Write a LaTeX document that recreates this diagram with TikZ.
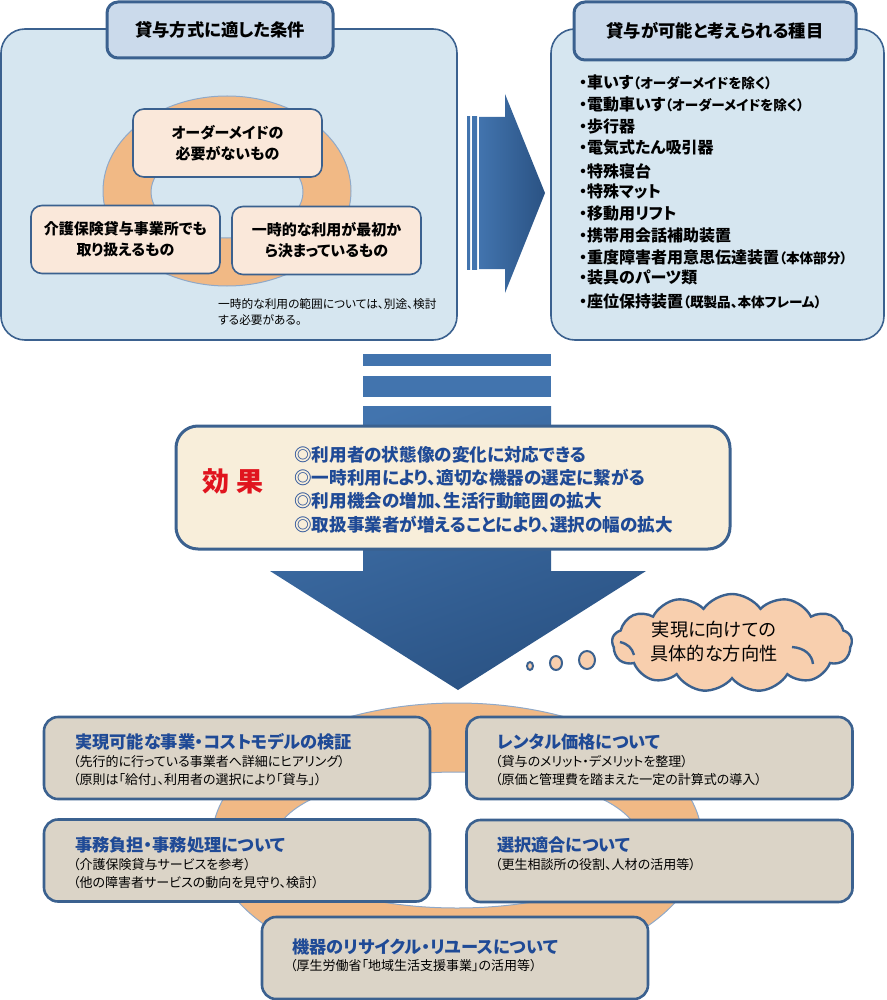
\documentclass[tikz,border=0pt]{standalone}
\usepackage{xcolor}
\usepackage{fontspec}
\usepackage{tikz}
\usetikzlibrary{shapes.symbols}
\newfontfamily\jpfont[RawFeature=+palt]{Noto Sans CJK JP}
\definecolor{panelblue}{HTML}{D6E6F0}
\definecolor{edgeblue}{HTML}{3B618F}
\definecolor{headblue}{HTML}{CBDAEB}
\definecolor{ringorange}{HTML}{F1B985}
\definecolor{ringedge}{HTML}{8FA9C9}
\definecolor{peach}{HTML}{FAE8DA}
\definecolor{cream}{HTML}{F8EEDA}
\definecolor{cloudpeach}{HTML}{F8CFAE}
\definecolor{paper}{HTML}{DBD4C7}
\definecolor{arrowlight}{HTML}{4274AE}
\definecolor{arrowdark}{HTML}{2A5283}
\definecolor{titleblue}{HTML}{1F4A96}
\definecolor{effectred}{HTML}{E0141E}
\tikzset{
  panel/.style={draw=edgeblue, line width=1.6pt, fill=panelblue, rounded corners=24pt},
  headbox/.style={draw=edgeblue, line width=3pt, fill=headblue, rounded corners=11pt,
    font=\jpfont\bfseries\fontsize{17.3}{20}\selectfont},
  ringbox/.style={draw=edgeblue, line width=1.6pt, fill=peach, rounded corners=11pt, align=center,
    minimum width=189pt, minimum height=68pt, inner sep=0pt,
    font=\jpfont\bfseries\fontsize{15}{21}\selectfont},
  paperbox/.style={draw=edgeblue, line width=2.6pt, fill=paper, rounded corners=14pt,
    minimum width=386pt, minimum height=82pt, inner sep=0pt},
  listitem/.style={anchor=west, inner sep=0pt, font=\jpfont\bfseries\fontsize{16}{18}\selectfont},
  effectitem/.style={anchor=west, inner sep=0pt, text=titleblue, font=\jpfont\bfseries\fontsize{17.6}{20}\selectfont},
  titletext/.style={anchor=west, inner sep=0pt, text=titleblue, font=\jpfont\bfseries\fontsize{17.2}{20}\selectfont},
  subtext/.style={anchor=west, inner sep=0pt, align=left, font=\jpfont\fontsize{13}{18}\selectfont},
  dot/.style={draw=edgeblue, line width=2pt, fill=cloudpeach},
}
\newcommand{\parenfont}{\fontsize{13.6}{16}\selectfont}
\begin{document}
\begin{tikzpicture}[x=1pt, y=-1pt]
    \useasboundingbox (0,0) rectangle (886,1000);

    % Left panel with its ring
    \draw[panel] (1,29) rectangle (457,340);
    \node[headbox, minimum width=226pt, minimum height=56pt, inner sep=0pt] (lefthead) at (220,30) {貸与方式に適した条件};
    \fill[ringorange, draw=ringedge, line width=1pt, even odd rule] (227,191) ellipse (124 and 95) (227,192) ellipse (76 and 46);
    \node[ringbox] (ordermade) at (227.5,143) {オーダーメイドの\\必要がないもの};
    \node[ringbox] (rentalshop) at (125.5,239.5) {介護保険貸与事業所でも\\取り扱えるもの};
    \node[ringbox] (shortterm) at (326.5,240.5) {一時的な利用が最初か\\ら決まっているもの};
    \node[subtext, font=\jpfont\fontsize{11.7}{16}\selectfont] (rangenote) at (218,312) {一時的な利用の範囲については、別途、検討\\する必要がある。};

    % Right pointing arrow
    \shade[left color=arrowlight, right color=arrowlight] (467,117) rectangle (470,269);
    \shade[left color=arrowlight, right color=arrowlight] (472,117) rectangle (477,269);
    \shade[left color=arrowlight, right color=arrowdark] (479,117) -- (505,117) -- (505,94) -- (545,193) -- (505,293) -- (505,269) -- (479,269) -- cycle;

    % Right panel with the list
    \draw[panel] (551,29) rectangle (884,340);
    \node[headbox, minimum width=282pt, minimum height=58pt, inner sep=0pt] (righthead) at (715,31) {貸与が可能と考えられる種目};
    \foreach \ypos/\itemtext [count=\i] in {
        82/・車いす{\parenfont（オーダーメイドを除く）},
        104/・電動車いす{\parenfont（オーダーメイドを除く）},
        126/・歩行器,
        148/・電気式たん吸引器,
        171/・特殊寝台,
        191/・特殊マット,
        213/・移動用リフト,
        235/・携帯用会話補助装置,
        257/・重度障害者用意思伝達装置{\parenfont（本体部分）},
        277/・装具のパーツ類,
        301/・座位保持装置{\parenfont（既製品、本体フレーム）}}
      \node[listitem] (item\i) at (579,\ypos) {\itemtext};

    % Downward arrow behind the effect box
    \fill[arrowlight] (363,354) rectangle (551,366);
    \fill[arrowlight] (363,376) rectangle (551,397);
    \shade[top color=arrowlight, bottom color=arrowdark, shading angle=20] (363,406) -- (551,406) -- (551,571) -- (646,571) -- (458,690) -- (270,571) -- (363,571) -- cycle;

    % Effect box
    \node[draw=edgeblue, line width=3pt, fill=cream, rounded corners=22pt, minimum width=554pt, minimum height=123pt, inner sep=0pt] (effectbox) at (453,487.5) {};
    \node[inner sep=0pt, text=effectred, font=\jpfont\bfseries\fontsize{27}{30}\selectfont] (effectlabel) at (233,481) {効 果};
    \foreach \ypos/\itemtext [count=\i] in {
        455/◎利用者の状態像の変化に対応できる,
        478/◎一時利用により、適切な機器の選定に繋がる,
        501/◎利用機会の増加、生活行動範囲の拡大,
        525/◎取扱事業者が増えることにより、選択の幅の拡大}
      \node[effectitem] (effect\i) at (294,\ypos) {\itemtext};

    % Thought cloud
    \filldraw[dot] (530,666) ellipse (3 and 4);
    \filldraw[dot] (556,663) ellipse (6 and 7);
    \filldraw[dot] (587,660) ellipse (8 and 9);
    \node[cloud, cloud puffs=13, cloud puff arc=110, aspect=2.4, draw=edgeblue, line width=2.4pt, fill=cloudpeach,
      minimum width=240pt, minimum height=98pt, inner sep=0pt] (thought) at (732,643) {};
    \node[inner sep=0pt, align=center, font=\jpfont\fontsize{18.2}{24}\selectfont] (thoughttext) at (714,642) {実現に向けての\\具体的な方向性};
    \draw[edgeblue, line width=2.4pt] (792,647) .. controls (805,648) and (812,655) .. (813,664);
    \draw[edgeblue, line width=2.4pt] (620,642) .. controls (628,644) and (632,648) .. (634,655);

    % Bottom ring and its five boxes
    \fill[ringorange, draw=ringedge, line width=1pt, even odd rule] (457,840) ellipse (245 and 137) (457,840) ellipse (182 and 68);
    \node[paperbox] (costbox) at (237,758) {};
    \node[paperbox] (pricebox) at (659.5,758) {};
    \node[paperbox] (officebox) at (237,860.5) {};
    \node[paperbox] (fitbox) at (659.5,861) {};
    \node[paperbox] (recyclebox) at (455,958) {};

    \node[titletext] (costtitle) at (75,742) {実現可能な事業・コストモデルの検証};
    \node[subtext] (costsub) at (73,771) {（先行的に行っている事業者へ詳細にヒアリング）\\（原則は「給付」、利用者の選択により「貸与」）};
    \node[titletext] (pricetitle) at (497,742) {レンタル価格について};
    \node[subtext] (pricesub) at (495,771) {（貸与のメリット・デメリットを整理）\\（原価と管理費を踏まえた一定の計算式の導入）};
    \node[titletext] (officetitle) at (75,845) {事務負担・事務処理について};
    \node[subtext] (officesub) at (73,874) {（介護保険貸与サービスを参考）\\（他の障害者サービスの動向を見守り、検討）};
    \node[titletext] (fittitle) at (497,845) {選択適合について};
    \node[subtext] (fitsub) at (495,865) {（更生相談所の役割、人材の活用等）};
    \node[titletext] (recycletitle) at (292,947) {機器のリサイクル・リユースについて};
    \node[subtext] (recyclesub) at (290,966) {（厚生労働省「地域生活支援事業」の活用等）};

\end{tikzpicture}
\end{document}
